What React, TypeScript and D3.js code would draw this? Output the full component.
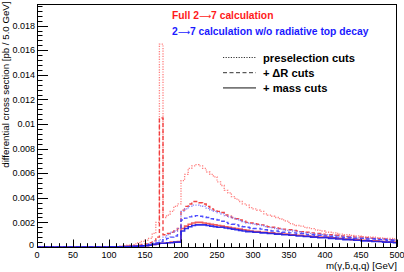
import { useEffect, useRef } from "react";
import * as d3 from "d3";

const W = 404;
const H = 272;
const BIN_WIDTH = 5; // GeV
const UNIT = 1e-4; // stored values are in units of 1e-4 pb per bin

// Full 2->7 calculation
const fullPreselection = [
    0, 0, 0, 0, 0, 0, 0, 0, 0, 0,
    0, 0, 0, 0, 0, 0, 0, 0, 0, 0.1,
    0.1, 0.1, 0.2, 0.5, 1, 1.5, 2, 2.5, 3.5, 4.5,
    5.5, 7, 11, 20, 165, 24, 26, 29, 33, 35,
    54, 59, 64, 66, 67, 66, 64, 61, 59, 57,
    53, 50, 46, 44, 41, 39, 37, 35, 34, 32,
    31, 30, 29, 27, 26, 25, 24, 23, 22, 21,
    19, 18, 17.5, 17, 16, 15.5, 15, 14, 13.5, 13,
    12, 12, 11.5, 11, 10.5, 10, 10, 9.5, 9, 9,
    8.5, 8.5, 8, 8, 7.5, 7.5, 7, 7, 7, 6.5,
];
const fullDeltaR = [
    0, 0, 0, 0, 0, 0, 0, 0, 0, 0,
    0, 0, 0, 0, 0, 0, 0, 0, 0, 0,
    0, 0, 0, 0, 0.3, 0.5, 0.8, 1, 1.5, 2,
    2.5, 3.5, 5, 8, 105, 10, 11, 12, 13, 15,
    30, 33, 35, 37, 37, 36, 35, 33, 31, 30,
    29, 28, 26, 25, 24, 23, 22, 21, 20, 19.5,
    19, 18.5, 18, 17, 16.5, 16, 15.5, 15, 14.5, 14,
    14, 13.5, 13, 12.5, 12, 12, 11.5, 11, 11, 10.5,
    10, 10, 9.5, 9.5, 9, 9, 8.5, 8.5, 8, 8,
    8, 7.5, 7.5, 7, 7, 6.5, 6.5, 6, 6, 6,
];
const fullMass = [
    0, 0, 0, 0, 0, 0, 0, 0, 0, 0,
    0, 0, 0, 0, 0, 0, 0, 0, 0, 0,
    0.1, 0.1, 0.2, 0.3, 0.4, 0.5, 0.6, 0.8, 0.9, 1,
    1, 1.5, 2, 2.5, 3, 3, 3.5, 4, 4, 4.5,
    15, 17, 18.5, 19.5, 20, 20, 19.5, 19, 18.5, 18,
    17.5, 17, 16.5, 16, 15.5, 15, 14.5, 14, 13.5, 13,
    12.5, 12.5, 12, 12, 11.5, 11.5, 11, 11, 10.5, 10.5,
    10, 10, 9.5, 9.5, 9, 9, 8.5, 8.5, 8, 8,
    8, 7.5, 7.5, 7, 7, 6.5, 6.5, 6, 6, 6,
    5.5, 5.5, 5, 5, 5, 4.5, 4.5, 4, 4, 4,
];

// 2->7 calculation w/o radiative top decay
const noRadPreselection = [
    0, 0, 0, 0, 0, 0, 0, 0, 0, 0,
    0, 0, 0, 0, 0, 0, 0, 0, 0, 0,
    0, 0, 0, 0, 0, 0.3, 0.5, 0.8, 1, 1.5,
    2, 2.5, 3.5, 5, 6, 8, 10, 12, 13, 15,
    29, 31, 33, 34, 34, 33.5, 33, 31.5, 30, 29,
    28, 27, 25.5, 24.5, 23.5, 22.5, 21.5, 20.5, 19.5, 19,
    18.5, 18, 17.5, 16.5, 16, 15.5, 15, 14.5, 14, 13.5,
    13.5, 13, 12.5, 12, 11.5, 11.5, 11, 10.5, 10.5, 10,
    10, 9.5, 9.5, 9, 9, 8.5, 8.5, 8, 8, 7.5,
    7.5, 7.5, 7, 7, 6.5, 6.5, 6.5, 6, 6, 5.5,
];
const noRadDeltaR = [
    0, 0, 0, 0, 0, 0, 0, 0, 0, 0,
    0, 0, 0, 0, 0, 0, 0, 0, 0, 0,
    0, 0, 0, 0, 0, 0, 0.3, 0.5, 0.8, 1,
    1.5, 2, 2.5, 3.5, 4.5, 6, 7, 8, 9, 10,
    22, 23.5, 24.5, 25, 25.5, 25, 24.5, 24, 23, 22.5,
    22, 21, 20, 19, 18.5, 18, 17, 16.5, 16, 15.5,
    15, 15, 14.5, 14, 13.5, 13, 13, 12.5, 12, 12,
    11.5, 11.5, 11, 11, 10.5, 10, 10, 9.5, 9.5, 9,
    9, 8.5, 8.5, 8, 8, 7.5, 7.5, 7.5, 7, 7,
    7, 6.5, 6.5, 6.5, 6, 6, 6, 5.5, 5.5, 5.5,
];
const noRadMass = [
    0, 0, 0, 0, 0, 0, 0, 0, 0, 0,
    0, 0, 0, 0, 0, 0, 0, 0, 0, 0,
    0.1, 0.1, 0.2, 0.2, 0.3, 0.4, 0.5, 0.6, 0.8, 0.9,
    1, 1.5, 2, 2.5, 3, 3, 3.5, 3.5, 4, 4,
    13, 15, 16.5, 17.5, 18, 18, 18, 17.5, 17, 16.5,
    16, 16, 15.5, 15, 14.5, 14, 13.5, 13, 12.5, 12.5,
    12, 12, 11.5, 11.5, 11, 11, 10.5, 10.5, 10, 10,
    9.5, 9.5, 9, 9, 8.5, 8.5, 8, 8, 7.5, 7.5,
    7.5, 7, 7, 6.5, 6.5, 6, 6, 6, 5.5, 5.5,
    5, 5, 5, 4.5, 4.5, 4.5, 4, 4, 4, 3.5,
];

const xTicks = [0, 50, 100, 150, 200, 250, 300, 350, 400, 450, 500];
const yTicks = [0, 0.002, 0.004, 0.006, 0.008, 0.01, 0.012, 0.014, 0.016, 0.018];
const cutLabels = ["preselection cuts", "+ \u0394R cuts", "+ mass cuts"];

const DOTTED = "1.2,1.4";
const DASHED = "4,2.5";

const series = [
    { values: fullPreselection, color: "#ff6f6f", dash: DOTTED, width: 1.3 },
    { values: fullDeltaR, color: "#f03030", dash: DASHED, width: 1.4 },
    { values: fullMass, color: "#f04848", dash: null, width: 1.6 },
    { values: noRadPreselection, color: "#7d7dff", dash: DOTTED, width: 1.3 },
    { values: noRadDeltaR, color: "#3b3bff", dash: DASHED, width: 1.4 },
    { values: noRadMass, color: "#1a1ae6", dash: null, width: 1.6 },
];

export default function App() {
    const ref = useRef<SVGSVGElement | null>(null);

    useEffect(() => {
        if (!ref.current) return;
        const svg = d3.select(ref.current);
        svg.selectAll("*").remove();

        const left = 37, right = 397, top = 4, bottom = 247;
        const font = "'Liberation Sans', Arial, Helvetica, sans-serif";

        const x = d3.scaleLinear().domain([0, 500]).range([left, right]);
        const y = d3.scaleLinear().domain([0, 0.01976]).range([bottom, top]);

        svg.append("rect").attr("width", W).attr("height", H).attr("fill", "#fff");

        const clip = svg.append("defs").append("clipPath").attr("id", "plot-clip");
        clip.append("rect").attr("x", left).attr("y", top).attr("width", right - left).attr("height", bottom - top);

        // histograms drawn as steps
        const line = d3
            .line<[number, number]>()
            .x(d => x(d[0]))
            .y(d => y(d[1] * UNIT))
            .curve(d3.curveStepAfter);

        const plot = svg.append("g").attr("clip-path", "url(#plot-clip)");
        series.forEach(s => {
            const pts: [number, number][] = s.values.map((v, i) => [i * BIN_WIDTH, v]);
            pts.push([s.values.length * BIN_WIDTH, s.values[s.values.length - 1]]);
            plot
                .append("path")
                .attr("d", line(pts))
                .attr("fill", "none")
                .attr("stroke", s.color)
                .attr("stroke-width", s.width)
                .attr("stroke-dasharray", s.dash)
                .attr("stroke-opacity", 0.9);
        });

        // ticks (inward, ROOT style)
        const axes = svg.append("g").attr("stroke", "#000").attr("stroke-width", 1);
        d3.range(0, 501, 10).forEach(v => {
            const major = v % 50 === 0;
            axes.append("line")
                .attr("x1", Math.round(x(v)) + 0.5).attr("x2", Math.round(x(v)) + 0.5)
                .attr("y1", bottom).attr("y2", bottom - (major ? 7.5 : 3.8));
        });
        d3.range(0, 0.0198, 0.0004).forEach((v, i) => {
            const major = i % 5 === 0;
            axes.append("line")
                .attr("x1", left).attr("x2", left + (major ? 11 : 5.5))
                .attr("y1", Math.round(y(v)) + 0.5).attr("y2", Math.round(y(v)) + 0.5);
        });

        svg.append("rect")
            .attr("x", left + 0.5).attr("y", top + 0.5)
            .attr("width", right - left - 1).attr("height", bottom - top)
            .attr("fill", "none").attr("stroke", "#000").attr("stroke-width", 1);

        // tick labels
        const fmt = d3.format("~g");
        svg.append("g")
            .selectAll("text")
            .data(xTicks)
            .enter()
            .append("text")
            .attr("x", d => x(d))
            .attr("y", 258)
            .attr("text-anchor", "middle")
            .attr("font-family", font)
            .attr("font-size", 9)
            .text(d => d);
        svg.append("g")
            .selectAll("text")
            .data(yTicks)
            .enter()
            .append("text")
            .attr("x", d => (d === 0 ? 34 : 35))
            .attr("y", d => (d === 0 ? y(d) + 1 : y(d) + 3.2))
            .attr("text-anchor", "end")
            .attr("font-family", font)
            .attr("font-size", 9)
            .text(d => fmt(d));

        // axis titles
        svg.append("text")
            .attr("transform", `translate(8.5,1.5) rotate(-90)`)
            .attr("text-anchor", "end")
            .attr("font-family", font)
            .attr("font-size", 9.7)
            .text("differential cross section [pb / 5.0 GeV]");
        svg.append("text")
            .attr("x", right)
            .attr("y", 269)
            .attr("text-anchor", "end")
            .attr("font-family", font)
            .attr("font-size", 9.7)
            .text("m(\u03b3,b\u0304,q,q) [GeV]");

        // legend headers, with a long ROOT-like arrow
        const header = (yy: number, color: string, before: string, after: string) => {
            const t = svg.append("text")
                .attr("x", 172).attr("y", yy)
                .attr("font-family", font).attr("font-size", 10.3).attr("font-weight", "bold")
                .attr("fill", color);
            t.append("tspan").text(before);
            t.append("tspan").attr("font-family", "'DejaVu Sans'").attr("font-weight", "normal")
                .attr("font-size", 8.5).text("\u27f6");
            t.append("tspan").text(after);
        };
        header(19, "#ff1a1a", "Full 2", "7 calculation");
        header(34.5, "#1a1aff", "2", "7 calculation w/o radiative top decay");

        const dashes = [DOTTED, DASHED, null];
        cutLabels.forEach((label, i) => {
            const ly = 57.5 + i * 15.2;
            svg.append("line")
                .attr("x1", 223).attr("x2", 256)
                .attr("y1", ly).attr("y2", ly)
                .attr("stroke", i === 2 ? "#777" : "#333")
                .attr("stroke-width", i === 2 ? 1.6 : 1)
                .attr("stroke-dasharray", dashes[i]);
            svg.append("text")
                .attr("x", 263).attr("y", ly + 4)
                .attr("font-family", font).attr("font-size", 11.2).attr("font-weight", "bold")
                .text(label);
        });
    }, []);

    return (
        <div style={{ position: "absolute", left: 0, top: 0 }}>
            <svg ref={ref} width={W} height={H} style={{ display: "block" }} />
        </div>
    );
}
